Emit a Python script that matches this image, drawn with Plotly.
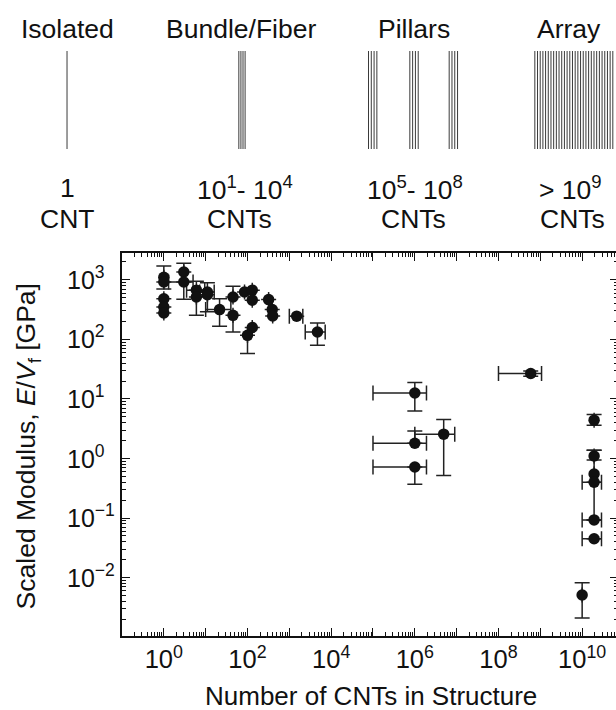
import math
import plotly.graph_objects as go

# ---------------- data ----------------
n_cnts = [1, 1, 1, 1, 1, 3, 3, 6, 6, 11, 11, 21.5, 45, 45, 85, 130, 130, 130, 100,
          320, 390, 400, 1500, 4700,
          1e6, 1e6, 1e6, 4.9e6, 5.9e8,
          1.93e10, 1.93e10, 1.93e10, 1.93e10, 1.93e10, 1.93e10, 1e10]
modulus = [1100, 920, 480, 350, 277, 1350, 920, 670, 515, 625, 560, 316, 515, 253, 625, 670, 455, 158, 117,
           465, 316, 247, 245, 133,
           12.6, 1.8, 0.72, 2.56, 26.7,
           4.4, 1.1, 0.55, 0.40, 0.093, 0.045, 0.0051]
x_low = [None, None, None, None, None, None, 1.3, 3.5, None, 7.2, None, 10, None, None, None, None, None, None, None,
         None, None, None, 1000, 2400,
         1e5, 1e5, 1e5, 1e6, 1e8,
         None, None, None, 1e10, 1e10, 1e10, None]
x_high = [None, None, None, None, None, None, 5, 9.5, None, 16, None, 40, None, None, None, None, None, None, None,
          None, None, None, 2100, 7200,
          1.9e6, 1.9e6, 1.9e6, 9e6, 1.07e9,
          None, None, None, 2.9e10, 2.9e10, 2.9e10, None]
y_low = [700, None, None, None, None, None, 470, None, 253, None, 290, 166, None, 133, None, None, None, None, 58,
         None, None, None, None, 80,
         6.3, None, 0.37, 0.52, 24,
         3.6, 0.94, 0.093, None, None, None, 0.0021]
y_high = [1700, None, None, None, None, 1900, None, 950, None, 890, None, 480, 780, None, None, None, None, None, None,
          None, None, None, None, 188,
          18.8, 2.9, None, 4.5, 29.5,
          5.5, 1.38, 1.38, None, None, None, 0.0082]

x_label_exp = [0, 2, 4, 6, 8, 10]
x_plain_exp = [-1, 1, 3, 5, 7, 9]
y_tick_exp = [-2, -1, 0, 1, 2, 3]

categories = ["Isolated", "Bundle/Fiber", "Pillars", "Array"]
cat_counts = ["1", "10<sup>1</sup>- 10<sup>4</sup>", "10<sup>5</sup>- 10<sup>8</sup>", "> 10<sup>9</sup>"]
cat_units = ["CNT", "CNTs", "CNTs", "CNTs"]

# ---------------- helpers ----------------
W, H = 620, 710
L, R, T, B = 122, 0, 253, 74
PW, PH = W - L - R, H - T - B


def px(xp):
    return (xp - L) / PW


def py(yp):
    return (H - B - yp) / PH


def sup(e):
    s = str(e).replace("-", "\u2212")
    return "10<sup>" + s + "</sup>"


def diff(a, b):
    return [None if (u is None) else (u - v) for u, v in zip(a, b)]


def diff_rev(a, b):
    return [None if (u is None) else (v - u) for u, v in zip(a, b)]


FONT = "Liberation Sans, Arial, Helvetica, sans-serif"
TXT = "#111111"

fig = go.Figure()
fig.add_trace(go.Scatter(
    x=n_cnts, y=modulus, mode="markers",
    marker=dict(size=11.5, color="#111111"),
    error_x=dict(type="data", symmetric=False,
                 array=diff(x_high, n_cnts), arrayminus=diff_rev(x_low, n_cnts),
                 color="#222222", thickness=1.5, width=7.5),
    error_y=dict(type="data", symmetric=False,
                 array=diff(y_high, modulus), arrayminus=diff_rev(y_low, modulus),
                 color="#222222", thickness=1.5, width=7.5),
    showlegend=False, hoverinfo="x+y",
))

# ---------------- illustration on top ----------------
shapes = []
line_top, line_bot = 51, 149


def vline(xp):
    shapes.append(dict(type="line", xref="paper", yref="paper",
                       x0=px(xp), x1=px(xp), y0=py(line_bot), y1=py(line_top),
                       line=dict(color="#3a3a3a", width=1)))


vline(66.8)
for i in range(4):
    vline(239.3 + i * 2.1)
for g in (369.5, 411.0, 450.5):
    for i in range(4):
        vline(g + i * 2.8)
xx = 536.5
while xx < 617:
    vline(xx)
    xx += 2.7

annotations = []
cat_x = [66.8, 241, 415, 571]
cnt_x = [67, 245, 416, 572]
unit_x = [67, 240, 415, 574]
for i in range(4):
    for txt, xs, yy in ((categories[i], cat_x[i], 29), (cat_counts[i], cnt_x[i], 188),
                        (cat_units[i], unit_x[i], 219)):
        annotations.append(dict(text=txt, x=px(xs), y=py(yy), xref="paper", yref="paper",
                                xanchor="center", yanchor="middle", showarrow=False,
                                font=dict(size=26.5, family=FONT, color=TXT)))

# y tick labels: left-aligned as in the reference
for e in y_tick_exp:
    annotations.append(dict(text=sup(e), x=px(65), y=e, xref="paper", yref="y",
                            xanchor="left", yanchor="middle", yshift=2, showarrow=False,
                            font=dict(size=25, family=FONT, color=TXT)))

# axis titles as annotations (exact placement)
annotations.append(dict(text="Number of CNTs in Structure", x=px(372), y=py(707), xref="paper", yref="paper",
                        xanchor="center", yanchor="bottom", yshift=-6, showarrow=False,
                        font=dict(size=26, family=FONT, color=TXT)))
annotations.append(dict(text="Scaled Modulus, <i>E</i>/<i>V</i><sub>f</sub> [GPa]", x=px(28), y=py(446),
                        xref="paper", yref="paper", xanchor="center", yanchor="middle", textangle=-90,
                        showarrow=False, font=dict(size=26.5, family=FONT, color=TXT)))

tickfont = dict(size=25.5, family=FONT, color=TXT)
minor = dict(ticks="inside", ticklen=4, tickwidth=1, tickcolor="#111", dtick="D1", showgrid=False)

fig.update_layout(
    width=W, height=H,
    margin=dict(l=L, r=R, t=T, b=B),
    paper_bgcolor="white", plot_bgcolor="white",
    xaxis=dict(type="log", range=[-1, 10.857],
               tickmode="array", tickvals=[10 ** e for e in x_label_exp],
               ticktext=[sup(e) for e in x_label_exp],
               showline=True, linecolor="#111", linewidth=1.5, mirror="ticks",
               ticks="inside", ticklen=8, tickwidth=1.2, tickcolor="#111",
               showgrid=False, zeroline=False, minor=minor, tickfont=tickfont),
    xaxis2=dict(type="log", range=[-1, 10.857], overlaying="x", anchor="y",
                tickmode="array", tickvals=[10 ** e for e in x_plain_exp],
                showticklabels=False, showline=False, mirror="ticks",
                ticks="inside", ticklen=8, tickwidth=1.2, tickcolor="#111",
                showgrid=False, zeroline=False),
    yaxis=dict(type="log", range=[-2.98, 3.45],
               tickmode="array", tickvals=[10 ** e for e in y_tick_exp],
               showticklabels=False,
               showline=True, linecolor="#111", linewidth=1.5, mirror="ticks",
               ticks="inside", ticklen=8, tickwidth=1.2, tickcolor="#111",
               showgrid=False, zeroline=False, minor=minor),
    shapes=shapes,
    annotations=annotations,
    font=dict(family=FONT),
)

# an invisible trace on the overlay axis so its ticks are drawn
fig.add_trace(go.Scatter(x=[1], y=[1], xaxis="x2", yaxis="y", mode="markers",
                         marker=dict(opacity=0), showlegend=False, hoverinfo="skip"))

fig.write_html("out.html", config={"displayModeBar": False},
               post_script="document.body.style.margin='0';document.body.style.overflow='hidden';"
                           "document.documentElement.style.overflow='hidden';")
